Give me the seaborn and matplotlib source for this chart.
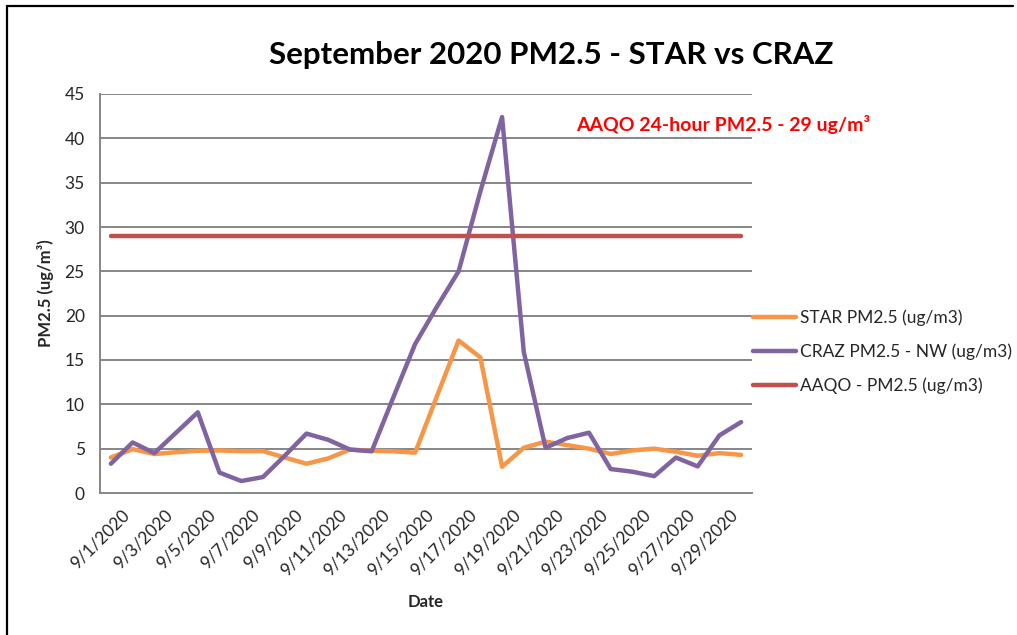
import matplotlib
matplotlib.use("Agg")
import matplotlib.pyplot as plt
from matplotlib.lines import Line2D
import seaborn as sns
import pandas as pd
import numpy as np

# data (September 2020, daily values)
days = list(range(1, 31))
star_pm25 = [4.0, 4.95, 4.4, 4.6, 4.76, 4.8, 4.72, 4.72, 4.0, 3.3,
             3.9, 4.9, 4.76, 4.7, 4.55, 10.9, 17.2, 15.3, 2.96, 5.1,
             5.8, 5.4, 5.0, 4.4, 4.8, 5.0, 4.65, 4.2, 4.5, 4.3]
craz_pm25 = [3.3, 5.7, 4.5, 6.8, 9.1, 2.3, 1.35, 1.8, 4.2, 6.7,
             6.0, 4.9, 4.7, 10.8, 16.8, 21.0, 25.0, 34.0, 42.4, 15.9,
             5.1, 6.2, 6.8, 2.7, 2.4, 1.9, 4.0, 3.0, 6.5, 8.0]
aaqo_limit = [29] * 30
date_labels = [f"9/{d}/2020" for d in days]
series_names = ["STAR PM2.5 (ug/m3)", "CRAZ PM2.5 - NW (ug/m3)", "AAQO - PM2.5 (ug/m3)"]
series_colors = ["#F79646", "#8064A2", "#C0504D"]

sns.set_style("white")
plt.rcParams["font.family"] = ["Lato", "DejaVu Sans"]

df = pd.DataFrame({"day": days, series_names[0]: star_pm25,
                   series_names[1]: craz_pm25, series_names[2]: aaqo_limit})

W, H = 1017, 635
fig = plt.figure(figsize=(W / 100, H / 100), dpi=100)
ax = fig.add_axes([100 / W, (H - 493) / H, 652 / W, 399 / H])

grid_col = "#868686"
for y in range(5, 50, 5):
    ax.axhline(y, color=grid_col, lw=1.4, zorder=0)

for name, col in zip(series_names, series_colors):
    sns.lineplot(data=df, x="day", y=name, ax=ax, color=col, lw=3.2,
                 label=name, solid_capstyle="round", solid_joinstyle="round")

ax.set_xlim(0.5, 30.5)
ax.set_ylim(0, 45)
ax.set_yticks(range(0, 50, 5))
ax.set_xticks(days[::2])
ax.set_xticklabels(date_labels[::2], rotation=45, ha="right",
                   rotation_mode="anchor", fontsize=12.5)
ax.set_xticks(np.arange(0.5, 31, 2), minor=True)
ax.tick_params(axis="x", which="major", length=0, pad=10)
ax.tick_params(axis="x", which="minor", length=5, width=1.4, color=grid_col, direction="out")
ax.tick_params(axis="y", length=5, width=1.4, color=grid_col, direction="out",
               labelsize=12.5, pad=6)
for lab in ax.get_xticklabels():
    lab.set_transform(lab.get_transform() + matplotlib.transforms.ScaledTranslation(10 / 100, 0, fig.dpi_scale_trans))

for s in ["top", "right"]:
    ax.spines[s].set_visible(False)
for s in ["left", "bottom"]:
    ax.spines[s].set_color(grid_col)
    ax.spines[s].set_linewidth(1.4)

ax.set_xlabel("")
ax.set_ylabel("")
fig.text(45 / W, 1 - 293 / H, "PM2.5 (ug/m³)", rotation=90, ha="center", va="center",
         fontsize=12, fontweight="bold")
fig.text(426 / W, 1 - 602 / H, "Date", ha="center", va="center",
         fontsize=12, fontweight="bold")
fig.text(551 / W, 1 - 55 / H, "September 2020 PM2.5 - STAR vs CRAZ", ha="center",
         va="center", fontsize=22.5, fontweight="bold", color="black")
fig.text(723 / W, 1 - 125 / H, "AAQO 24-hour PM2.5 - 29 ug/m³", ha="center", va="center",
         fontsize=14, fontweight="bold", color="red")

handles = [Line2D([0], [0], color=c, lw=3.2, solid_capstyle="round") for c in series_colors]
ax.legend(handles, series_names, loc="center left", bbox_to_anchor=(753 / W, 1 - 352 / H),
          bbox_transform=fig.transFigure, frameon=False, fontsize=12.5,
          handlelength=2.5, handletextpad=0.2, labelspacing=1.0, borderaxespad=0,
          borderpad=0)

# chart border like the spreadsheet export
fig.add_artist(Line2D([7 / W, 7 / W], [0, 1 - 6 / H], color="black", lw=1.6))
fig.add_artist(Line2D([7 / W, 1013 / W], [1 - 6 / H, 1 - 6 / H], color="black", lw=1.6))

fig.savefig("out.png", dpi=100)
